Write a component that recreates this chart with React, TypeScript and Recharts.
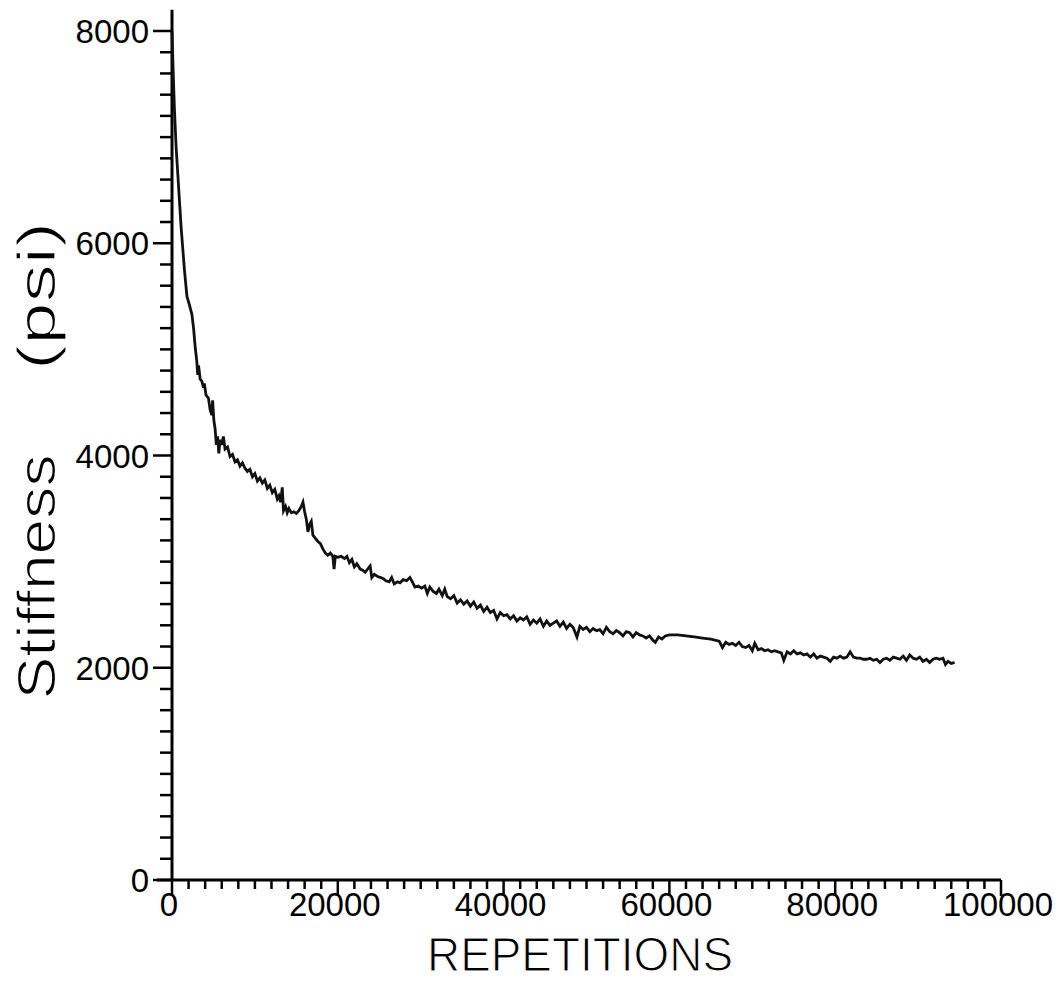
import React from 'react';
import { LineChart, Line, XAxis, YAxis, ReferenceLine, Customized } from 'recharts';

const repetitions = [
  0, 150, 300, 500, 700, 900, 1100, 1300, 1500, 1800, 2100, 2400, 2600, 2800, 3000, 3100, 3200, 3400, 3600, 3800,
  3900, 4100, 4400, 4600, 4800, 4900, 5050, 5200, 5350, 5500, 5650, 5800, 6000, 6200, 6400, 6700, 7000, 7300, 7600, 7900,
  8200, 8500, 8800, 9100, 9400, 9700, 10000, 10300, 10600, 10900, 11200, 11500, 11800, 12100, 12400, 12700, 12900, 13100, 13300, 13450,
  13700, 13900, 14100, 14400, 14700, 15000, 15300, 15600, 15800, 16000, 16200, 16400, 16600, 16800, 17000, 17300, 17600, 17900, 18200, 18500,
  18800, 19100, 19400, 19550, 19700, 20000, 20400, 20800, 21100, 21400, 21700, 22000, 22300, 22700, 23000, 23300, 23700, 23900, 24100, 24400,
  24800, 25200, 25500, 25800, 26200, 26500, 26800, 27200, 27500, 27900, 28300, 28700, 29000, 29300, 29700, 30100, 30500, 30800, 31100, 31500,
  31900, 32200, 32600, 32900, 33200, 33600, 34000, 34400, 34800, 35200, 35600, 36000, 36400, 36800, 37200, 37600, 38000, 38400, 38800, 39200,
  39600, 40000, 40400, 40800, 41200, 41600, 42000, 42400, 42800, 43200, 43600, 44000, 44400, 44800, 45200, 45600, 46000, 46400, 46800, 47200,
  47600, 48000, 48400, 48850, 49200, 49600, 50000, 50400, 50800, 51200, 51600, 52000, 52400, 52800, 53200, 53600, 54000, 54400, 54800, 55200,
  55600, 56000, 56400, 56800, 57200, 57600, 58000, 58300, 58700, 59100, 59500, 60000, 61000, 62000, 63000, 64000, 65000, 66000, 66400, 66800,
  67200, 67600, 68000, 68400, 68800, 69200, 69600, 70000, 70300, 70700, 71100, 71500, 71900, 72300, 72700, 73100, 73500, 73800, 74200, 74600,
  75000, 75400, 75800, 76200, 76600, 77000, 77400, 77800, 78200, 78600, 79000, 79400, 79800, 80200, 80600, 81000, 81400, 81800, 82200, 82600,
  83000, 83400, 83800, 84200, 84600, 85000, 85400, 85800, 86200, 86600, 87000, 87400, 87800, 88200, 88600, 89000, 89400, 89800, 90200, 90600,
  91000, 91400, 91800, 92200, 92600, 93000, 93300, 93600, 94000, 94400,
];

const stiffness = [
  8000, 7600, 7250, 6900, 6650, 6400, 6150, 5950, 5750, 5500, 5420, 5330, 5200, 5020, 4880, 4760, 4850, 4720, 4700, 4640,
  4680, 4570, 4540, 4430, 4380, 4520, 4330, 4250, 4100, 4180, 4020, 4150, 4100, 4180, 4060, 4080, 3990, 4010, 3940, 3960,
  3900, 3930, 3880, 3850, 3870, 3800, 3830, 3760, 3790, 3740, 3770, 3690, 3720, 3650, 3680, 3590, 3620, 3560, 3700, 3480,
  3520, 3460, 3500, 3460, 3470, 3455, 3480, 3520, 3560, 3470, 3400, 3280, 3350, 3380, 3250, 3220, 3190, 3170, 3120, 3080,
  3060, 3080, 3050, 2930, 3050, 3040, 3050, 3030, 3050, 2990, 3020, 2950, 2980, 2930, 2920, 2900, 2940, 2960, 2850, 2880,
  2860, 2850, 2840, 2820, 2810, 2850, 2790, 2810, 2800, 2830, 2820, 2850, 2810, 2760, 2770, 2750, 2770, 2700, 2760, 2720,
  2700, 2740, 2680, 2740, 2670, 2650, 2680, 2610, 2640, 2600, 2630, 2580, 2620, 2560, 2590, 2530, 2570, 2520, 2540, 2460,
  2520, 2490, 2500, 2460, 2490, 2440, 2470, 2450, 2480, 2410, 2450, 2420, 2460, 2390, 2440, 2400, 2420, 2440, 2390, 2430,
  2370, 2410, 2380, 2290, 2390, 2360, 2380, 2340, 2370, 2350, 2360, 2320, 2380, 2340, 2320, 2350, 2330, 2300, 2340, 2330,
  2290, 2330, 2310, 2300, 2280, 2300, 2260, 2240, 2290, 2270, 2300, 2310, 2310, 2300, 2290, 2280, 2270, 2250, 2190, 2240,
  2220, 2230, 2210, 2240, 2200, 2190, 2210, 2160, 2230, 2170, 2180, 2160, 2170, 2150, 2160, 2150, 2140, 2070, 2150, 2130,
  2160, 2130, 2140, 2120, 2130, 2100, 2130, 2090, 2110, 2100, 2090, 2060, 2100, 2090, 2110, 2090, 2100, 2150, 2100, 2090,
  2090, 2080, 2080, 2090, 2070, 2080, 2050, 2080, 2090, 2070, 2100, 2090, 2080, 2110, 2070, 2120, 2090, 2080, 2100, 2060,
  2080, 2050, 2080, 2090, 2080, 2090, 2030, 2060, 2040, 2050,
];

const xMajorTicks = [0, 20000, 40000, 60000, 80000, 100000];
const yMajorTicks = [0, 2000, 4000, 6000, 8000];
const xMinorStep = 2000;
const yMinorStep = 200;

const data = repetitions.map((r, i) => ({ x: r, y: stiffness[i] }));

const xTicks: number[] = [];
for (let v = 0; v <= 100000; v += xMinorStep) xTicks.push(v);
const yTicks: number[] = [];
for (let v = 0; v <= 8000; v += yMinorStep) yTicks.push(v);

const FONT = '"Liberation Sans", Arial, sans-serif';

const XTick = (props: any) => {
  const { x, y, payload } = props;
  const major = xMajorTicks.includes(payload.value);
  return (
    <g>
      <line x1={x} x2={x} y1={y} y2={y + (major ? 16 : 9)} stroke="#000" strokeWidth={2.5} />
      {major && (
        <text x={x - 3} y={y + 36} textAnchor="middle" fontSize={33} fontFamily={FONT} fill="#000">
          {payload.value}
        </text>
      )}
    </g>
  );
};

const YTick = (props: any) => {
  const { x, y, payload } = props;
  const major = yMajorTicks.includes(payload.value);
  return (
    <g>
      <line x1={x - (major ? 19 : 12)} x2={x} y1={y} y2={y} stroke="#000" strokeWidth={2.5} />
      {major && (
        <text x={x - 23} y={y + 12} textAnchor="end" fontSize={33} fontFamily={FONT} fill="#000">
          {payload.value}
        </text>
      )}
    </g>
  );
};

// thin white outline trims the heavy sans strokes toward the plotter look
const Titles = () => (
  <g fontFamily={FONT} fill="#000" stroke="#fff" strokeWidth={1.2}>
    <text x={580} y={971} textAnchor="middle" fontSize={49} textLength={306} lengthAdjust="spacingAndGlyphs">
      REPETITIONS
    </text>
    <text
      transform="translate(55, 577) rotate(-90)"
      textAnchor="middle"
      fontSize={53}
      textLength={245}
      lengthAdjust="spacingAndGlyphs"
    >
      Stiffness
    </text>
    <text
      transform="translate(55, 296) rotate(-90)"
      textAnchor="middle"
      fontSize={53}
      textLength={148}
      lengthAdjust="spacingAndGlyphs"
    >
      (psi)
    </text>
  </g>
);

const App: React.FC = () => {
  return (
    <div style={{ position: 'absolute', left: 0, top: 0, width: 1063, height: 981, background: '#fff' }}>
      <LineChart width={1063} height={981} data={data} margin={{ top: 31, right: 62, left: 72, bottom: 0 }}>
        <XAxis
          dataKey="x"
          type="number"
          domain={[0, 100000]}
          ticks={xTicks}
          interval={0}
          height={101}
          axisLine={false}
          tickLine={false}
          tickSize={0}
          tickMargin={0}
          tick={<XTick />}
        />
        <YAxis
          type="number"
          domain={[0, 8000]}
          ticks={yTicks}
          interval={0}
          width={100}
          axisLine={false}
          tickLine={false}
          tickSize={0}
          tickMargin={0}
          tick={<YTick />}
        />
        <ReferenceLine
          segment={[{ x: -1800, y: 0 }, { x: 100000, y: 0 }]}
          stroke="#000"
          strokeWidth={3}
          ifOverflow="visible"
        />
        <ReferenceLine
          segment={[{ x: 0, y: 0 }, { x: 0, y: 8200 }]}
          stroke="#000"
          strokeWidth={3}
          ifOverflow="visible"
        />
        <Line
          type="linear"
          dataKey="y"
          stroke="#111"
          strokeWidth={2.8}
          dot={false}
          isAnimationActive={false}
        />
        <Customized component={Titles} />
      </LineChart>
    </div>
  );
};

export default App;
